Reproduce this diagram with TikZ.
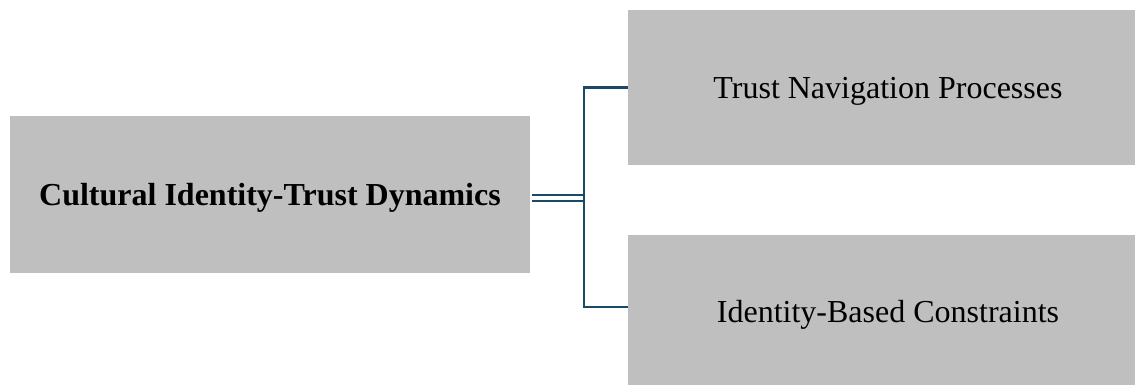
\documentclass[tikz,border=0pt]{standalone}
\usepackage{fontspec}
\setmainfont{Liberation Serif}
\usetikzlibrary{positioning}
\definecolor{boxgray}{RGB}{191,191,191}
\definecolor{linkblue}{RGB}{24,74,104}

\begin{document}
\begin{tikzpicture}[x=1pt,y=-1pt,every node/.style={font=\fontsize{32}{38}\selectfont},
  topicbox/.style={fill=boxgray,inner sep=0pt,text depth=0pt,minimum width=520pt},
  link/.style={draw=linkblue,line width=2.6pt}]
  \useasboundingbox (0,0) rectangle (1135,385);
  \node[topicbox,minimum height=157pt,font=\fontsize{32}{38}\selectfont\bfseries] (core) at (270,194.5) {Cultural Identity-Trust Dynamics};
  \node[topicbox,minimum height=155pt] (trust) at (888,87.5) {Trust Navigation Processes};
  \node[topicbox,minimum height=152pt] (ident) at (888,311) {Identity-Based Constraints};
  \coordinate (fork) at (584,198);
  \draw[link,double=white,double distance=4pt,line width=2.2pt] (core.east |- fork) ++(2,0) -- (fork);
  \draw[link] (fork) |- (trust.west);
  \draw[link] (fork) |- (ident.west |- 0,307);
\end{tikzpicture}
\end{document}
